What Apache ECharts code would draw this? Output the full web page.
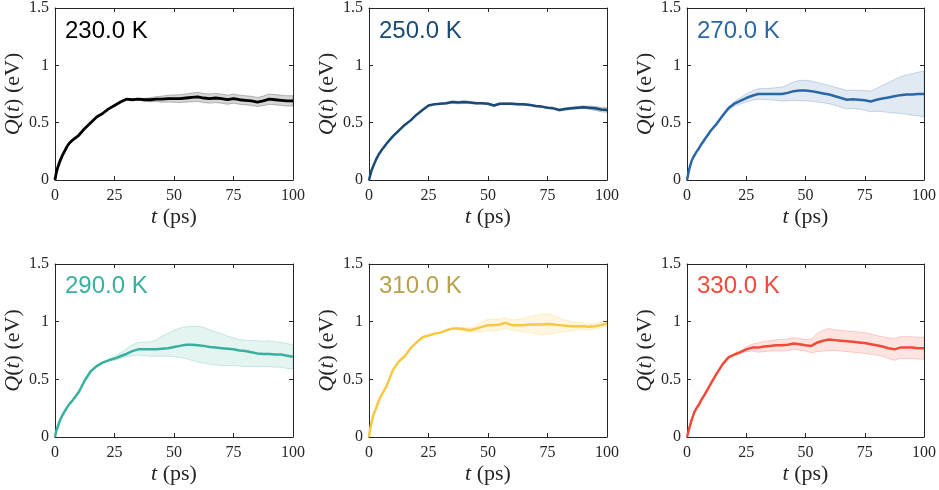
<!DOCTYPE html>
<html><head><meta charset="utf-8">
<script src="https://cdn.jsdelivr.net/npm/echarts@6/dist/echarts.min.js"></script>
<style>html,body{margin:0;padding:0;background:#fff}#c{width:939px;height:490px}</style>
</head><body><div id="c"></div>
<script>
// ---- data ----
const times = [0,0.5,1,2,3,4,5,6,7.5,10,12.5,15,17.5,20,22.5,25,27.5,30,32.5,35,37.5,40,42.5,45,47.5,50,52.5,55,57.5,60,62.5,65,67.5,70,72.5,75,77.5,80,82.5,85,87.5,90,92.5,95,97.5,100];
const xTickValues = [0,25,50,75,100];
const yTickValues = [0,0.5,1,1.5];
const tempLabels = ['230.0 K','250.0 K','270.0 K','290.0 K','310.0 K','330.0 K'];

const mean230 = [0,0.06,0.10,0.16,0.21,0.25,0.29,0.32,0.35,0.39,0.45,0.50,0.55,0.58,0.62,0.65,0.68,0.705,0.70,0.705,0.70,0.70,0.705,0.705,0.71,0.71,0.71,0.715,0.72,0.725,0.715,0.71,0.715,0.71,0.70,0.71,0.70,0.695,0.69,0.68,0.69,0.705,0.70,0.695,0.69,0.69];
const err230 = [0,0,0,0,0,0,0,0,0,0,0,0,0,0,0,0,0,0,0,0.008,0.012,0.018,0.022,0.027,0.03,0.032,0.034,0.036,0.038,0.04,0.04,0.04,0.04,0.04,0.04,0.04,0.04,0.04,0.04,0.04,0.042,0.045,0.045,0.045,0.045,0.045];

const mean250 = [0,0.04,0.08,0.13,0.18,0.22,0.25,0.28,0.32,0.38,0.43,0.48,0.52,0.57,0.61,0.65,0.66,0.665,0.67,0.68,0.675,0.68,0.675,0.67,0.67,0.665,0.65,0.665,0.665,0.665,0.66,0.66,0.655,0.645,0.64,0.63,0.625,0.61,0.62,0.625,0.63,0.635,0.63,0.625,0.615,0.61];
const err250 = [0,0,0,0,0,0,0,0,0,0,0,0,0,0,0,0,0,0.005,0.008,0.01,0.012,0.012,0.01,0.008,0.008,0.008,0.008,0.008,0.008,0.008,0.008,0.008,0.008,0.008,0.008,0.008,0.008,0.01,0.01,0.01,0.012,0.012,0.015,0.018,0.02,0.02];

const mean270 = [0,0.05,0.10,0.17,0.21,0.245,0.275,0.31,0.355,0.43,0.49,0.56,0.625,0.665,0.69,0.715,0.735,0.75,0.75,0.75,0.75,0.75,0.76,0.775,0.78,0.78,0.775,0.765,0.755,0.745,0.73,0.715,0.70,0.705,0.70,0.695,0.685,0.70,0.71,0.72,0.73,0.74,0.745,0.745,0.75,0.75];
const err270 = [0,0,0,0,0,0,0,0,0,0,0,0.01,0.015,0.02,0.028,0.035,0.04,0.045,0.048,0.05,0.055,0.06,0.07,0.08,0.088,0.09,0.088,0.085,0.082,0.08,0.08,0.08,0.08,0.08,0.082,0.085,0.09,0.10,0.115,0.13,0.145,0.16,0.17,0.18,0.19,0.20];

const mean290 = [0,0.05,0.08,0.14,0.185,0.22,0.255,0.285,0.32,0.39,0.49,0.57,0.615,0.645,0.665,0.68,0.70,0.72,0.745,0.76,0.76,0.76,0.76,0.765,0.77,0.78,0.79,0.80,0.80,0.795,0.79,0.78,0.775,0.77,0.765,0.76,0.75,0.745,0.735,0.725,0.72,0.72,0.715,0.715,0.705,0.695];
const errLo290 = [0,0,0,0,0,0,0,0,0,0,0,0,0,0,0,0.015,0.02,0.025,0.04,0.05,0.055,0.06,0.06,0.065,0.07,0.085,0.10,0.12,0.135,0.145,0.15,0.15,0.15,0.15,0.145,0.14,0.135,0.135,0.125,0.115,0.11,0.11,0.11,0.11,0.11,0.105];
const errHi290 = [0,0,0,0,0,0,0,0,0,0,0,0,0,0,0,0.02,0.03,0.045,0.055,0.06,0.06,0.065,0.08,0.11,0.13,0.145,0.155,0.155,0.16,0.165,0.16,0.15,0.135,0.125,0.11,0.10,0.095,0.095,0.10,0.11,0.11,0.115,0.11,0.105,0.105,0.105];

const mean310 = [0,0.07,0.12,0.20,0.25,0.31,0.355,0.39,0.445,0.58,0.655,0.70,0.77,0.82,0.865,0.88,0.895,0.905,0.925,0.94,0.94,0.935,0.925,0.94,0.955,0.97,0.97,0.975,0.99,0.97,0.97,0.97,0.975,0.975,0.975,0.98,0.975,0.97,0.965,0.96,0.96,0.96,0.955,0.96,0.97,0.985];
const err310 = [0,0,0,0,0,0,0,0,0,0,0,0,0,0,0,0,0,0,0,0,0.01,0.015,0.02,0.03,0.045,0.05,0.05,0.05,0.045,0.045,0.05,0.06,0.07,0.08,0.09,0.09,0.08,0.065,0.05,0.04,0.035,0.03,0.025,0.025,0.025,0.025];

const mean330 = [0,0.04,0.08,0.15,0.21,0.25,0.28,0.32,0.37,0.46,0.55,0.63,0.69,0.715,0.735,0.76,0.775,0.775,0.785,0.79,0.795,0.795,0.80,0.81,0.805,0.795,0.79,0.82,0.835,0.845,0.84,0.835,0.83,0.825,0.82,0.815,0.805,0.795,0.785,0.77,0.76,0.775,0.775,0.775,0.77,0.77];
const err330 = [0,0,0,0,0,0,0,0,0,0,0,0,0,0,0.01,0.02,0.03,0.04,0.045,0.045,0.048,0.05,0.05,0.05,0.05,0.05,0.06,0.08,0.09,0.095,0.09,0.09,0.09,0.09,0.09,0.09,0.088,0.085,0.085,0.09,0.095,0.095,0.095,0.095,0.095,0.095];

// ---- panels ----
const panels = [
  {label: tempLabels[0], mean: mean230, lo: err230, hi: err230, color:'#000000', text:'#000000', band:'#000000', bandOp:0.16, lw:2.8},
  {label: tempLabels[1], mean: mean250, lo: err250, hi: err250, color:'#1b4a74', text:'#1b4a74', band:'#1b4a74', bandOp:0.2, lw:2.5},
  {label: tempLabels[2], mean: mean270, lo: err270, hi: err270, color:'#2a67a7', text:'#2a67a7', band:'#2a67a7', bandOp:0.14, lw:2.5},
  {label: tempLabels[3], mean: mean290, lo: errLo290, hi: errHi290, color:'#38b09f', text:'#38b09f', band:'#38b09f', bandOp:0.14, lw:2.5},
  {label: tempLabels[4], mean: mean310, lo: err310, hi: err310, color:'#f6c843', text:'#b8a04c', band:'#f6c843', bandOp:0.16, lw:2.5},
  {label: tempLabels[5], mean: mean330, lo: err330, hi: err330, color:'#f04b38', text:'#f04b38', band:'#f04b38', bandOp:0.15, lw:2.5}
];

const colLeft = [55, 369, 687];
const rowTop = [7, 264];
const gw = 238, gh = 173;
const axisColor = '#262626';
const serif = '"Liberation Serif", "Times New Roman", serif';
const nameSize = 22, tickSize = 16;

const option = {
  animation: false,
  backgroundColor: '#ffffff',
  grid: [], xAxis: [], yAxis: [], title: [], series: []
};

panels.forEach((p, i) => {
  const r = Math.floor(i / 3), c = i % 3;
  const left = colLeft[c], top = rowTop[r];
  option.grid.push({left: left, top: top, width: gw, height: gh, containLabel: false});
  const lineStyle = {color: axisColor, width: 1};
  const tick = {show: true, inside: true, length: 4, lineStyle: {color: axisColor, width: 1}};
  const nameStyle = {fontFamily: serif, fontSize: nameSize, color: axisColor,
      rich: {i: {fontFamily: serif, fontSize: nameSize, fontStyle: 'italic', color: axisColor},
             n: {fontFamily: serif, fontSize: nameSize, color: axisColor}}};
  option.xAxis.push({
    type: 'value', gridIndex: i, min: xTickValues[0], max: xTickValues[xTickValues.length-1],
    interval: xTickValues[1] - xTickValues[0],
    axisLine: {show: true, onZero: false, lineStyle},
    axisTick: tick,
    splitLine: {show: false},
    axisLabel: {fontFamily: serif, fontSize: tickSize, color: axisColor, margin: 8},
    name: '{i|t}{n| (ps)}', nameLocation: 'middle', nameGap: 26,
    nameTextStyle: nameStyle
  });
  option.xAxis.push({
    type: 'value', gridIndex: i, position: 'top', min: xTickValues[0], max: xTickValues[xTickValues.length-1],
    interval: xTickValues[1] - xTickValues[0],
    axisLine: {show: true, onZero: false, lineStyle},
    axisTick: tick, axisLabel: {show: false}, splitLine: {show: false}
  });
  option.yAxis.push({
    type: 'value', gridIndex: i, min: yTickValues[0], max: yTickValues[yTickValues.length-1],
    interval: yTickValues[1] - yTickValues[0],
    axisLine: {show: true, onZero: false, lineStyle},
    axisTick: tick,
    splitLine: {show: false},
    axisLabel: {fontFamily: serif, fontSize: tickSize, color: axisColor, margin: 6},
    name: '{i|Q}{n|(}{i|t}{n|) (eV)}', nameLocation: 'middle', nameGap: 31,
    nameTextStyle: nameStyle
  });
  option.yAxis.push({
    type: 'value', gridIndex: i, position: 'right', min: yTickValues[0], max: yTickValues[yTickValues.length-1],
    interval: yTickValues[1] - yTickValues[0],
    axisLine: {show: true, onZero: false, lineStyle},
    axisTick: tick, axisLabel: {show: false}, splitLine: {show: false}
  });
  option.title.push({
    text: p.label, left: left + 10, top: top + (r === 0 ? 12 : 10), padding: 0,
    textStyle: {fontFamily: '"Liberation Sans", Arial, Helvetica, sans-serif', fontSize: 24, fontWeight: 'normal', color: p.text}
  });
  const bandRows = times.map((t, k) => [t, p.mean[k] - p.lo[k], p.mean[k] + p.hi[k]]);
  option.series.push({
    type: 'custom', xAxisIndex: 2*i, yAxisIndex: 2*i, silent: true, z: 1, clip: true,
    data: bandRows,
    encode: {x: 0, y: [1, 2]},
    renderItem: (params, api) => {
      if (params.dataIndex !== 0) return null;
      const pts = [];
      bandRows.forEach(row => pts.push(api.coord([row[0], row[2]])));
      for (let k = bandRows.length - 1; k >= 0; k--) pts.push(api.coord([bandRows[k][0], bandRows[k][1]]));
      return {type: 'polygon', shape: {points: pts},
        style: {fill: echarts.color.modifyAlpha(p.band, p.bandOp), stroke: echarts.color.modifyAlpha(p.band, 0.35), lineWidth: 0.7}};
    }
  });
  option.series.push({
    type: 'line', xAxisIndex: 2*i, yAxisIndex: 2*i, z: 3, silent: true,
    data: times.map((t, k) => [t, p.mean[k]]),
    symbol: 'none', lineStyle: {color: p.color, width: p.lw}
  });
});

const chart = echarts.init(document.getElementById('c'), null, {renderer: 'canvas'});
chart.setOption(option);
</script>
</body></html>
